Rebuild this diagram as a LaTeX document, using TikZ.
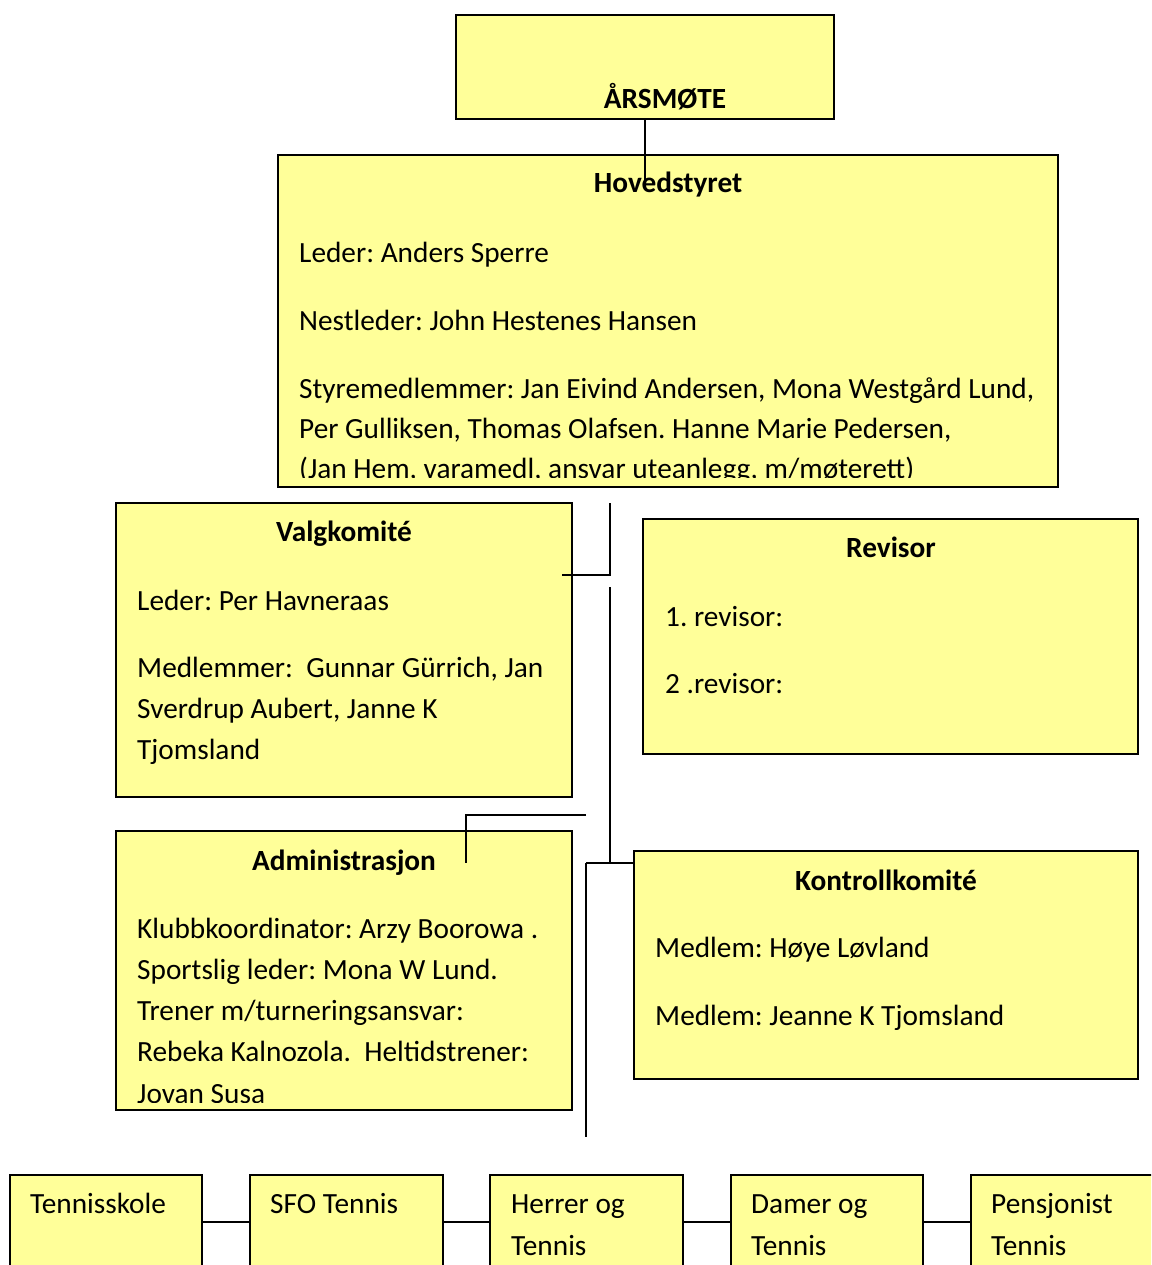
\documentclass[tikz,border=0pt]{standalone}
\usepackage{fontspec}
\setmainfont{Carlito}
\definecolor{boxfill}{HTML}{FFFF99}
\begin{document}
\frenchspacing
\begin{tikzpicture}[x=1pt,y=-1pt,
  box/.style={draw=black, line width=2pt, fill=boxfill, rectangle, inner sep=0pt, outer sep=0pt, anchor=north west},
  txt/.style={anchor=base west, inner sep=0pt, font=\fontsize{29.3}{41}\selectfont},
  ttl/.style={anchor=base, inner sep=0pt, font=\fontsize{29.3}{41}\selectfont\bfseries},
  link/.style={line width=1.8pt}]
\useasboundingbox (0,0) rectangle (1151,1265);
\clip (0,0) rectangle (1151,1265);

% boxes
\node[box, minimum width=378pt, minimum height=104pt] (arsmote) at (456,15) {};
\node[box, minimum width=780pt, minimum height=332pt] (hoved) at (278,155) {};
\node[box, minimum width=456pt, minimum height=294pt] (valg) at (116,503) {};
\node[box, minimum width=495pt, minimum height=235pt] (revisor) at (643,519) {};
\node[box, minimum width=456pt, minimum height=279pt] (admin) at (116,831) {};
\node[box, minimum width=504pt, minimum height=228pt] (kontroll) at (634,851) {};
\node[box, minimum width=192pt, minimum height=150pt] (b1) at (10,1175) {};
\node[box, minimum width=193pt, minimum height=150pt] (b2) at (250,1175) {};
\node[box, minimum width=193pt, minimum height=150pt] (b3) at (490,1175) {};
\node[box, minimum width=192pt, minimum height=150pt] (b4) at (731,1175) {};
\node[box, minimum width=200pt, minimum height=150pt] (b5) at (971,1175) {};

% texts
\node[ttl] (tarsmote) at (665,109) {ÅRSMØTE};
\node[ttl] (thoved) at (668,193) {Hovedstyret};
\node[txt] (h1) at (299,262) {Leder: Anders Sperre};
\node[txt] (h2) at (299,330) {Nestleder: John Hestenes Hansen};
\node[txt] (h3) at (299,398) {Styremedlemmer: Jan Eivind Andersen, Mona Westgård Lund,};
\node[txt] (h4) at (299,438) {Per Gulliksen, Thomas Olafsen. Hanne Marie Pedersen,};
\begin{scope}
\clip (280,440) rectangle (1056,477);
\node[txt] (h5) at (299,478) {(Jan Hem, varamedl, ansvar uteanlegg, m/møterett)};
\end{scope}

\node[ttl] (tvalg) at (344,541) {Valgkomité};
\node[txt] (v1) at (137,610) {Leder: Per Havneraas};
\node[txt] (v2) at (137,677) {Medlemmer:\ \ Gunnar Gürrich, Jan};
\node[txt] (v3) at (137,718) {Sverdrup Aubert, Janne K};
\node[txt] (v4) at (137,759) {Tjomsland};

\node[ttl] (trevisor) at (891,557) {Revisor};
\node[txt] (r1) at (665,626) {1. revisor:};
\node[txt] (r2) at (665,693) {2 .revisor:};

\node[ttl] (tadmin) at (344,870) {Administrasjon};
\node[txt] (a1) at (137,938) {Klubbkoordinator: Arzy Boorowa .};
\node[txt] (a2) at (137,979) {Sportslig leder: Mona W Lund.};
\node[txt] (a3) at (137,1020) {Trener m/turneringsansvar:};
\node[txt] (a4) at (137,1061) {Rebeka Kalnozola.\ \ Heltidstrener:};
\begin{scope}
\clip (118,1070) rectangle (570,1102);
\node[txt] (a5) at (137,1103) {Jovan Susa};
\end{scope}

\node[ttl] (tkontroll) at (886,890) {Kontrollkomité};
\node[txt] (k1) at (655,957) {Medlem: Høye Løvland};
\node[txt] (k2) at (655,1025) {Medlem: Jeanne K Tjomsland};

\node[txt] (t1) at (30,1213) {Tennisskole};
\node[txt] (t2) at (270,1213) {SFO Tennis};
\node[txt] (t3) at (511,1213) {Herrer og};
\node[txt] (t3b) at (511,1255) {Tennis};
\node[txt] (t4) at (751,1213) {Damer og};
\node[txt] (t4b) at (751,1255) {Tennis};
\node[txt] (t5) at (991,1213) {Pensjonist};
\node[txt] (t5b) at (991,1255) {Tennis};

% connector coordinates
\coordinate (c0) at (645,182);
\coordinate (c1) at (610,503);
\coordinate (c2) at (610,575);
\coordinate (c3) at (562,575);
\coordinate (c4) at (610,587);
\coordinate (c5) at (610,863);
\coordinate (c6) at (586,863);
\coordinate (c7) at (634,863);
\coordinate (c8) at (586,1137);
\coordinate (c9) at (466,815);
\coordinate (c10) at (586,815);
\coordinate (c11) at (466,863);

% connectors
\draw[link] (arsmote.south -| c0) -- (c0);
\draw[link] (c1) -- (c2) -- (c3);
\draw[link] (c4) -- (c5);
\draw[link] (c6) -- (c7);
\draw[link] (c6) -- (c8);
\draw[link] (c10) -- (c9) -- (c11);
\draw[link] (b1.east |- 0,1222) -- (b2.west |- 0,1222);
\draw[link] (b2.east |- 0,1222) -- (b3.west |- 0,1222);
\draw[link] (b3.east |- 0,1222) -- (b4.west |- 0,1222);
\draw[link] (b4.east |- 0,1222) -- (b5.west |- 0,1222);
\end{tikzpicture}
\end{document}
